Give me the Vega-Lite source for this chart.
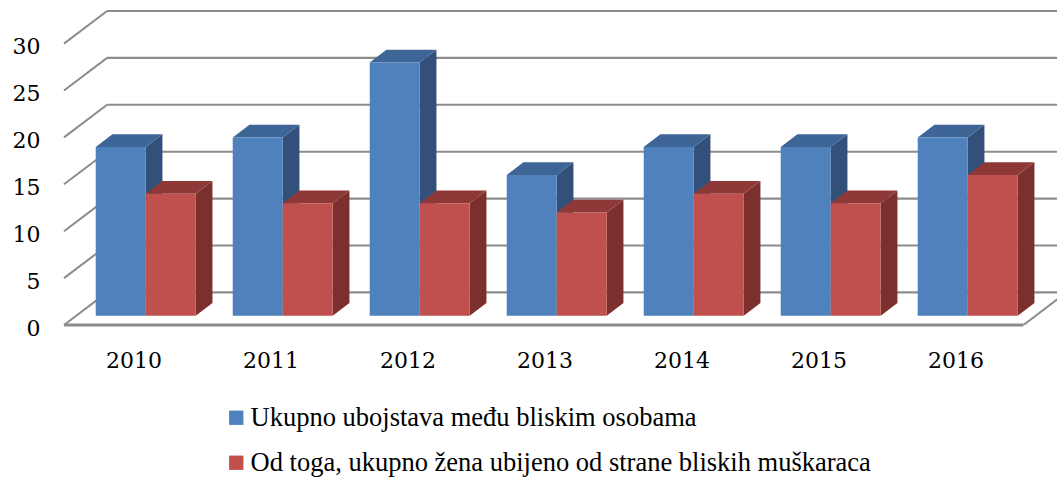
{"$schema":"https://vega.github.io/schema/vega-lite/v6.json","width":993,"height":325,"autosize":{"type":"none"},"padding":{"left":64,"top":0,"right":0,"bottom":153},"background":"white","config":{"view":{"stroke":null},"axis":{"labelFont":"DejaVu Serif","labelFontSize":22,"labelColor":"#000000"}},"datasets":{"bars":[{"year":2010,"series":"Ukupno ubojstava među bliskim osobama","value":18},{"year":2010,"series":"Od toga, ukupno žena ubijeno od strane bliskih muškaraca","value":13},{"year":2011,"series":"Ukupno ubojstava među bliskim osobama","value":19},{"year":2011,"series":"Od toga, ukupno žena ubijeno od strane bliskih muškaraca","value":12},{"year":2012,"series":"Ukupno ubojstava među bliskim osobama","value":27},{"year":2012,"series":"Od toga, ukupno žena ubijeno od strane bliskih muškaraca","value":12},{"year":2013,"series":"Ukupno ubojstava među bliskim osobama","value":15},{"year":2013,"series":"Od toga, ukupno žena ubijeno od strane bliskih muškaraca","value":11},{"year":2014,"series":"Ukupno ubojstava među bliskim osobama","value":18},{"year":2014,"series":"Od toga, ukupno žena ubijeno od strane bliskih muškaraca","value":13},{"year":2015,"series":"Ukupno ubojstava među bliskim osobama","value":18},{"year":2015,"series":"Od toga, ukupno žena ubijeno od strane bliskih muškaraca","value":12},{"year":2016,"series":"Ukupno ubojstava među bliskim osobama","value":19},{"year":2016,"series":"Od toga, ukupno žena ubijeno od strane bliskih muškaraca","value":15}],"levels":[{"level":0},{"level":5},{"level":10},{"level":15},{"level":20},{"level":25},{"level":30}]},"layer":[
{"data":{"name":"levels"},"transform":[{"calculate":"-0.282","as":"xa"},{"calculate":"6.9","as":"xb"},{"calculate":"datum.level+3.475","as":"ya"}],"mark":{"type":"rule","color":"#8c8c8c","strokeWidth":2.1,"clip":true},"encoding":{"x":{"field":"xa","type":"quantitative","scale":{"domain":[-0.5966,6.6517],"nice":false,"zero":false},"axis":{"values":[-0.09,0.91,1.91,2.91,3.91,4.91,5.91],"labelExpr":"2010+round(datum.value+0.09)","grid":false,"domain":false,"ticks":false,"title":null,"labelPadding":25,"labelFlush":false,"labelOverlap":false}},"x2":{"field":"xb"},"y":{"field":"ya","type":"quantitative","scale":{"domain":[0,34.65],"nice":false,"zero":false},"axis":{"values":[0,5,10,15,20,25,30],"grid":false,"domain":false,"ticks":false,"title":null,"labelPadding":24,"labelOffset":3}},"y2":{"field":"ya"}}},
{"data":{"name":"levels"},"transform":[{"calculate":"-0.5966","as":"xa"},{"calculate":"-0.282","as":"xb"},{"calculate":"datum.level+3.475","as":"ya"}],"mark":{"type":"rule","color":"#8c8c8c","strokeWidth":2},"encoding":{"x":{"field":"xa","type":"quantitative"},"x2":{"field":"xb"},"y":{"field":"level","type":"quantitative"},"y2":{"field":"ya"}}},
{"data":{"values":[{"level":0}]},"transform":[{"calculate":"-0.5966","as":"xa"},{"calculate":"6.407","as":"xb"}],"mark":{"type":"rule","color":"#8c8c8c","strokeWidth":3},"encoding":{"x":{"field":"xa","type":"quantitative"},"x2":{"field":"xb"},"y":{"field":"level","type":"quantitative"}}},
{"data":{"values":[{"level":0}]},"transform":[{"calculate":"6.407","as":"xa"},{"calculate":"6.721","as":"xb"},{"calculate":"3.475","as":"ya"}],"mark":{"type":"rule","color":"#8c8c8c","strokeWidth":2,"clip":true},"encoding":{"x":{"field":"xa","type":"quantitative"},"x2":{"field":"xb"},"y":{"field":"level","type":"quantitative"},"y2":{"field":"ya"}}},
{"data":{"name":"bars"},"transform":[{"filter":"indexof(datum.series,'Ukupno')==0"},{"calculate":"[0,1]","as":"t"},{"flatten":["t"]},{"calculate":"datum.year-2010+datum.t*0.122","as":"sx"},{"calculate":"datum.value+0.99+datum.t*1.354","as":"sy"},{"calculate":"0.99+datum.t*1.354","as":"sy2"}],"mark":{"type":"area","orient":"vertical","color":"#325079"},"encoding":{"x":{"field":"sx","type":"quantitative"},"y":{"field":"sy","type":"quantitative"},"y2":{"field":"sy2"},"detail":{"field":"year"}}},
{"data":{"name":"bars"},"transform":[{"filter":"indexof(datum.series,'Ukupno')==0"},{"calculate":"[0,1]","as":"t"},{"flatten":["t"]},{"calculate":"datum.year-2010-0.365+datum.t*0.122","as":"sx"},{"calculate":"datum.year-2010+datum.t*0.122","as":"sx2"},{"calculate":"datum.value+0.99+datum.t*1.354","as":"sy"}],"mark":{"type":"area","orient":"horizontal","color":"#3d6595"},"encoding":{"x":{"field":"sx","type":"quantitative"},"x2":{"field":"sx2"},"y":{"field":"sy","type":"quantitative"},"detail":{"field":"year"}}},
{"data":{"name":"bars"},"transform":[{"filter":"indexof(datum.series,'Ukupno')==0"},{"calculate":"datum.year-2010-0.365","as":"fx"},{"calculate":"datum.year-2010","as":"fx2"},{"calculate":"datum.value+0.99","as":"fy"},{"calculate":"0.99","as":"fy2"}],"mark":{"type":"rect"},"encoding":{"x":{"field":"fx","type":"quantitative"},"x2":{"field":"fx2"},"y":{"field":"fy","type":"quantitative"},"y2":{"field":"fy2"},"color":{"field":"series","type":"nominal","sort":null,"scale":{"domain":["Ukupno ubojstava među bliskim osobama","Od toga, ukupno žena ubijeno od strane bliskih muškaraca"],"range":["#4f81bd","#c0504d"]},"legend":{"orient":"none","legendX":159,"legendY":404.5,"title":null,"symbolType":"square","symbolSize":205,"symbolStrokeWidth":0,"labelFont":"Liberation Serif","labelFontSize":26.5,"labelColor":"#000000","labelLimit":800,"labelOffset":1,"rowPadding":18,"columns":1}}}},
{"data":{"name":"bars"},"transform":[{"filter":"indexof(datum.series,'Od toga')==0"},{"calculate":"[0,1]","as":"t"},{"flatten":["t"]},{"calculate":"datum.year-2010+0.365+datum.t*0.122","as":"sx"},{"calculate":"datum.value+0.99+datum.t*1.354","as":"sy"},{"calculate":"0.99+datum.t*1.354","as":"sy2"}],"mark":{"type":"area","orient":"vertical","color":"#7b302e"},"encoding":{"x":{"field":"sx","type":"quantitative"},"y":{"field":"sy","type":"quantitative"},"y2":{"field":"sy2"},"detail":{"field":"year"}}},
{"data":{"name":"bars"},"transform":[{"filter":"indexof(datum.series,'Od toga')==0"},{"calculate":"[0,1]","as":"t"},{"flatten":["t"]},{"calculate":"datum.year-2010+datum.t*0.122","as":"sx"},{"calculate":"datum.year-2010+0.365+datum.t*0.122","as":"sx2"},{"calculate":"datum.value+0.99+datum.t*1.354","as":"sy"}],"mark":{"type":"area","orient":"horizontal","color":"#8e3937"},"encoding":{"x":{"field":"sx","type":"quantitative"},"x2":{"field":"sx2"},"y":{"field":"sy","type":"quantitative"},"detail":{"field":"year"}}},
{"data":{"name":"bars"},"transform":[{"filter":"indexof(datum.series,'Od toga')==0"},{"calculate":"datum.year-2010","as":"fx"},{"calculate":"datum.year-2010+0.365","as":"fx2"},{"calculate":"datum.value+0.99","as":"fy"},{"calculate":"0.99","as":"fy2"}],"mark":{"type":"rect"},"encoding":{"x":{"field":"fx","type":"quantitative"},"x2":{"field":"fx2"},"y":{"field":"fy","type":"quantitative"},"y2":{"field":"fy2"},"color":{"field":"series","type":"nominal"}}}
]}
